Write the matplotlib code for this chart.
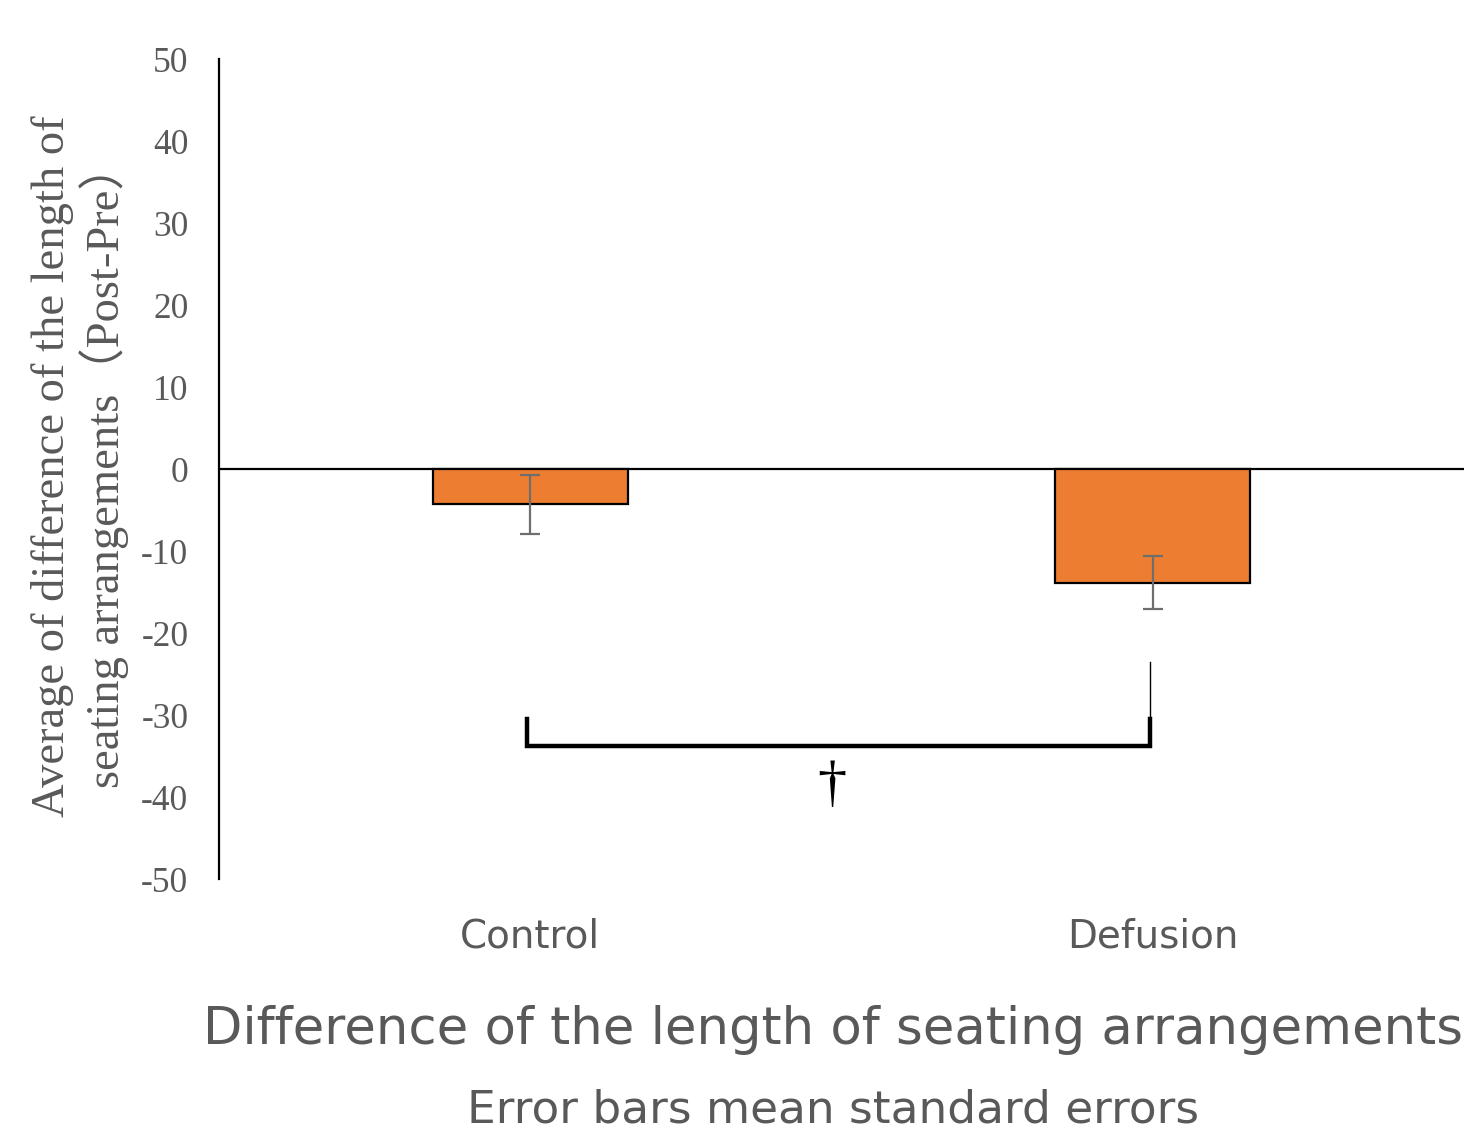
import matplotlib
matplotlib.use("Agg")
from matplotlib import pyplot as plt
import numpy as np

# data
groups = ["Control", "Defusion"]
means = [-4.3, -13.85]
errors = [3.6, 3.25]

# significance bracket (data units)
bracket_ends = [-0.005, 0.995]
bracket_level = -33.8
bracket_tick_top = -30.5
bracket_line_top = -23.5
sig_mark = "\u2020"
sig_mark_y = -38.6

yticks = np.arange(-50, 51, 10)

grey = "#595959"
orange = "#ED7D31"

fig = plt.figure(figsize=(14.64, 11.31), dpi=100)
ax = fig.add_axes([219/1464, 1 - 879/1131, 1 - 219/1464, 820/1131])

x = np.arange(len(groups))
ax.bar(x, means, width=0.313, color=orange, edgecolor="black", linewidth=1.6, zorder=2)
ax.errorbar(x, means, yerr=errors, fmt="none", ecolor="#6e6e6e", elinewidth=1.6,
            capsize=7, capthick=1.6, zorder=3)

ax.set_xlim(-0.5, 1.5)
ax.set_ylim(-50, 50)
ax.set_yticks(yticks)
ax.set_yticklabels([str(v) for v in yticks], family="Liberation Serif", fontsize=25.5, color=grey)
ax.tick_params(axis="y", length=0, pad=22)
ax.set_xticks([])

for s in ["top", "right", "bottom"]:
    ax.spines[s].set_visible(False)
ax.spines["left"].set_linewidth(1.6)
ax.axhline(0, color="black", linewidth=1.6, zorder=1)

# bracket
bx0, bx1 = bracket_ends
ax.plot([bx0, bx0, bx1, bx1], [bracket_tick_top, bracket_level, bracket_level, bracket_tick_top],
        color="black", linewidth=3.2, solid_joinstyle="miter", zorder=4)
ax.plot([bx1, bx1], [bracket_tick_top, bracket_line_top], color="black", linewidth=1.0, zorder=4)
ax.text((bx0 + bx1) / 2 - 0.01, sig_mark_y, sig_mark, family="Liberation Serif",
        fontsize=42, ha="center", va="center", color="black")

# category labels
for xi, g in zip(x, groups):
    ax.text(xi, -57.0, g, family="DejaVu Sans", fontsize=28, color=grey,
            ha="center", va="center")

fig.text(80/1464, 1 - 466/1131,
         "Average of difference of the length of\nseating arrangements\uff08Post-Pre\uff09",
         rotation=90, ha="center", va="center", fontsize=33.5, color=grey,
         family=["Liberation Serif", "Noto Sans CJK JP"], linespacing=1.15)

fig.text(833/1464, 1 - 1030/1131, "Difference of the length of seating arrangements",
         family="DejaVu Sans", fontsize=36.9, color=grey, ha="center", va="center")
fig.text(833/1464, 1 - 1110/1131, "Error bars mean standard errors",
         family="DejaVu Sans", fontsize=32.7, color=grey, ha="center", va="center")

fig.savefig("out.png", dpi=100)
